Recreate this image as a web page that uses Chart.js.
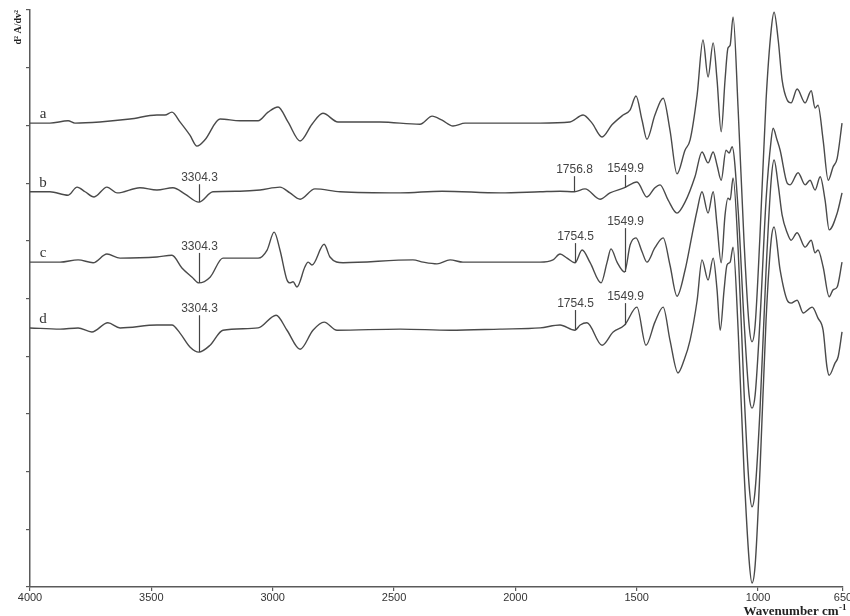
<!DOCTYPE html>
<html>
<head>
    <title>Second derivative spectra</title>
    <script src="https://cdn.jsdelivr.net/npm/chart.js"></script>
    <style>
        body { margin: 0; background: #fff; }
        #wrap { width: 850px; height: 616px; }
    </style>
</head>
<body>
    <div id="wrap"><canvas id="spectra" width="850" height="616"></canvas></div>

    <script>
        // wavenumber (cm-1) and 2nd derivative signal (arb. units, traces stacked)
        var wnA = [4000,3918,3843,3815,3712,3588,3477,3444,3415,3382,3341,3312,3279,3217,3135,3060,3019,2978,2937,2887,2838,2793,2731,2558,2393,2343,2302,2257,2207,2063,1898,1775,1721,1684,1643,1602,1556,1527,1503,1478,1458,1425,1391,1363,1334,1301,1280,1251,1227,1206,1185,1169,1152,1136,1124,1115,1103,1082,1058,1037,1025,1012,992,967,946,934,917,901,880,864,839,806,781,765,753,732,711,691,674,654];
        var valA = [80.4,80.4,80.8,80.4,80.6,81.1,81.8,81.8,82.3,80.6,78.3,76.4,77.5,81.1,80.8,80.8,82.3,83.2,80.6,77.3,80.2,82.1,80.6,80.6,80.2,81.6,80.9,79.9,80.4,80.4,80.4,80.6,81.8,80.4,78.0,80.1,81.8,82.7,85.1,80.9,77.6,81.8,84.7,79.2,71.6,75.7,77.5,85.3,94.8,88.4,94.3,87.9,78.9,87.9,93.4,93.9,98.8,82.7,60.1,45.4,42.5,45.4,61.0,84.4,96.5,99.6,94.8,87.9,84.4,83.9,86.3,83.9,86.0,83.0,83.5,77.5,70.5,72.8,74.3,80.4];

        var wnB = [4000,3918,3843,3806,3773,3736,3683,3641,3547,3477,3411,3361,3304.3,3246,3135,3052,2970,2929,2887,2826,2722,2475,2302,2063,1898,1816,1756.8,1713,1651,1610,1549.9,1499,1458,1425,1404,1371,1334,1301,1260,1231,1206,1185,1169,1152,1132,1119,1107,1082,1058,1037,1025,1012,992,967,946,938,922,909,880,868,835,806,786,765,744,724,707,674,654];
        var valB = [68.5,68.5,67.9,69.3,68.5,67.6,69.3,68.3,69.2,68.8,69.2,68.1,66.7,68.5,68.6,68.8,69.3,68.3,67.2,69.0,68.5,68.3,68.6,68.3,68.5,68.6,68.5,69.0,67.2,68.3,69.2,70.2,67.6,69.2,69.7,67.1,64.8,66.7,71.1,75.4,73.5,75.4,73.1,70.5,75.7,75.2,76.3,65.3,46.3,33.3,31.0,33.3,46.3,67.1,77.5,79.5,77.5,75.7,70.0,69.7,71.8,69.7,70.5,68.8,71.1,67.1,61.9,64.8,68.3];

        var wnC = [4000,3876,3802,3740,3683,3629,3477,3415,3374,3332,3304.3,3258,3205,3060,3023,2994,2970,2941,2929,2916,2900,2867,2854,2838,2788,2764,2710,2422,2380,2323,2269,2216,1898,1845,1816,1787,1754.5,1725,1692,1647,1622,1606,1581,1549.9,1527,1503,1478,1458,1425,1391,1363,1334,1301,1272,1251,1231,1206,1185,1169,1152,1136,1124,1115,1103,1082,1058,1037,1025,1012,992,967,946,934,917,901,880,864,839,806,781,765,753,732,707,691,674,654];
        var valC = [56.3,56.3,56.7,56.2,57.7,57.0,57.2,57.5,55.3,53.7,52.7,53.7,57.0,57.0,58.4,61.5,58.4,53.2,52.7,52.9,52.0,55.5,56.3,55.8,59.4,57.2,56.2,56.7,56.3,56.0,56.7,56.3,56.3,56.7,57.7,57.0,56.2,58.4,56.2,52.7,56.3,58.6,56.3,54.6,59.3,60.5,58.1,56.3,58.8,60.5,55.8,50.4,54.9,61.0,65.3,68.5,64.8,68.5,62.7,56.2,64.5,67.4,67.1,70.9,58.4,34.1,17.7,13.9,16.8,30.7,54.9,70.5,74.0,69.7,64.5,61.4,60.1,61.4,58.9,60.1,57.9,58.4,55.5,50.3,51.5,52.0,56.3];

        var wnD = [4000,3876,3802,3745,3679,3629,3477,3415,3382,3341,3304.3,3258,3205,3060,2986,2941,2887,2834,2788,2735,2475,2269,2063,1898,1816,1754.5,1733,1705,1643,1597,1549.9,1499,1462,1425,1391,1363,1330,1305,1280,1251,1231,1206,1185,1169,1156,1140,1128,1115,1103,1082,1058,1037,1025,1012,992,967,946,934,909,880,864,839,814,777,753,732,716,707,683,670,654];
        var valD = [44.9,44.7,44.9,44.2,45.8,44.9,45.4,45.4,44.0,41.6,40.7,41.9,44.5,44.9,47.1,44.5,41.2,44.5,45.9,44.5,44.7,44.5,44.7,44.9,45.4,44.5,45.4,45.8,41.9,44.2,45.4,48.5,41.9,45.9,48.5,42.8,37.1,39.3,42.8,49.7,56.7,53.2,57.0,51.5,44.5,51.5,55.8,56.3,58.9,44.5,20.3,4.7,0.7,3.8,20.3,46.3,60.1,62.4,54.9,49.7,49.2,49.7,47.5,48.5,46.6,44.5,38.1,36.7,38.8,39.9,44.2];

        var traceNames = ['a', 'b', 'c', 'd'];
        var xTicks = [4000, 3500, 3000, 2500, 2000, 1500, 1000, 650];

        // band markers: which trace, position, top of the marker line
        var markTrace = [1, 1, 1, 2, 2, 2, 3, 3, 3];
        var markWn = [3304.3, 1756.8, 1549.9, 3304.3, 1754.5, 1549.9, 3304.3, 1754.5, 1549.9];
        var markTop = [69.8, 71.2, 71.4, 57.9, 59.6, 62.2, 47.1, 48.0, 49.2];

        var traceWn = [wnA, wnB, wnC, wnD];
        var traceVal = [valA, valB, valC, valD];

        function valueAt(t, wn) {
            var w = traceWn[t], v = traceVal[t];
            for (var i = 0; i < w.length - 1; i++) {
                if (w[i] >= wn && w[i + 1] <= wn) {
                    var f = (w[i] - wn) / (w[i] - w[i + 1]);
                    return v[i] + f * (v[i + 1] - v[i]);
                }
            }
            return v[v.length - 1];
        }

        var overlay = {
            id: 'overlay',
            afterDraw: function(chart) {
                var ctx = chart.ctx, xs = chart.scales.x, ys = chart.scales.y;
                ctx.save();

                // trace letters
                ctx.fillStyle = '#333';
                ctx.font = '15px "Liberation Serif"';
                ctx.textAlign = 'center';
                ctx.textBaseline = 'alphabetic';
                traceNames.forEach(function(n, i) {
                    ctx.fillText(n, xs.left + 13, ys.getPixelForValue(traceVal[i][0]) - 5);
                });

                // marker lines + labels
                ctx.strokeStyle = '#444';
                ctx.lineWidth = 1.2;
                ctx.font = '12px "Liberation Sans"';
                ctx.fillStyle = '#444';
                for (var k = 0; k < markWn.length; k++) {
                    var px = Math.round(xs.getPixelForValue(markWn[k])) + 0.5;
                    var yb = ys.getPixelForValue(valueAt(markTrace[k], markWn[k]));
                    var yt = ys.getPixelForValue(markTop[k]);
                    ctx.beginPath();
                    ctx.moveTo(px, yb);
                    ctx.lineTo(px, yt);
                    ctx.stroke();
                    ctx.fillText(markWn[k].toFixed(1), px, yt - 3);
                }

                // y axis title
                ctx.save();
                ctx.translate(18, ys.top);
                ctx.rotate(-Math.PI / 2);
                ctx.font = 'bold 10px "Liberation Serif"';
                ctx.textAlign = 'right';
                ctx.textBaseline = 'middle';
                ctx.fillStyle = '#222';
                ctx.fillText('d\u00b2 A/dv\u00b2', 0, 0);
                ctx.restore();

                // x axis title
                ctx.fillStyle = '#222';
                ctx.textAlign = 'left';
                ctx.font = 'bold 13px "Liberation Serif"';
                var main = 'Wavenumber cm';
                var w1 = ctx.measureText(main).width;
                ctx.font = 'bold 9px "Liberation Serif"';
                var w2 = ctx.measureText('-1').width;
                var x0 = chart.width - 4 - w1 - w2;
                ctx.font = 'bold 13px "Liberation Serif"';
                ctx.fillText(main, x0, 615);
                ctx.font = 'bold 9px "Liberation Serif"';
                ctx.fillText('-1', x0 + w1 + 0.5, 610);

                ctx.restore();
            }
        };

        var datasets = traceNames.map(function(n, i) {
            return {
                label: n,
                data: traceWn[i].map(function(w, j) { return { x: w, y: traceVal[i][j] }; }),
                borderColor: '#4a4a4a',
                borderWidth: 1.4,
                pointRadius: 0,
                fill: false,
                cubicInterpolationMode: 'monotone'
            };
        });

        var chart = new Chart(document.getElementById('spectra').getContext('2d'), {
            type: 'line',
            data: { datasets: datasets },
            options: {
                responsive: false,
                animation: false,
                layout: { padding: { top: 10, right: 7, bottom: 0, left: 0 } },
                plugins: { legend: { display: false }, tooltip: { enabled: false } },
                scales: {
                    x: {
                        type: 'linear',
                        position: 'bottom',
                        reverse: true,
                        min: 650,
                        max: 4000,
                        afterBuildTicks: function(s) {
                            s.ticks = xTicks.map(function(v) { return { value: v }; });
                        },
                        afterFit: function(s) {
                            s.height = 29;
                            s.paddingLeft = 0;
                            s.paddingRight = 0;
                        },
                        ticks: {
                            autoSkip: false,
                            maxRotation: 0,
                            padding: 0,
                            color: '#333',
                            font: { family: 'Liberation Sans', size: 11 },
                            callback: function(v) { return String(v); }
                        },
                        grid: { drawOnChartArea: false, drawTicks: true, tickLength: 4, color: '#5a5a5a', lineWidth: 1.2 },
                        border: { color: '#5a5a5a', width: 1.5 }
                    },
                    y: {
                        min: 0,
                        max: 100,
                        afterFit: function(s) {
                            s.width = 30;
                            s.paddingTop = 0;
                            s.paddingBottom = 0;
                        },
                        ticks: { display: false, stepSize: 10 },
                        grid: { drawOnChartArea: false, drawTicks: true, tickLength: 4, color: '#5a5a5a', lineWidth: 1.2 },
                        border: { color: '#5a5a5a', width: 1.5 }
                    }
                }
            },
            plugins: [overlay]
        });
    </script>
</body>
</html>
